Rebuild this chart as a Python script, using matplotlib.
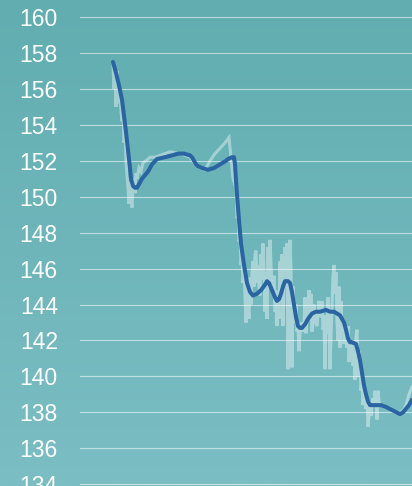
import matplotlib
matplotlib.use("Agg")
import matplotlib.pyplot as plt
import numpy as np
from matplotlib.colors import LinearSegmentedColormap

# raw readings (day, value)
raw_days = [0, 1, 2, 3, 4, 5, 6, 7, 8, 9, 10, 11, 12, 13, 14, 15, 16, 17, 18, 19,
            20, 21, 22, 23, 24, 26, 28, 30, 33, 37, 42, 47, 57, 67, 77, 82, 87, 92,
            97, 102, 107, 112, 116, 120, 123, 124, 125, 126, 127, 128, 129, 130, 131,
            132, 133, 134, 135, 136, 137, 138, 139, 140, 141, 142, 143, 144, 145, 146,
            147, 148, 149, 150, 151, 152, 153, 154, 155, 156, 157, 158, 159, 160, 161,
            162, 163, 164, 165, 166, 167, 168, 169, 170, 171, 172, 173, 174, 175, 176,
            177, 178, 179, 180, 181, 182, 183, 184, 185, 186, 187, 188, 189, 190, 191,
            192, 193, 194, 195, 196, 197, 198, 199, 200, 201, 202, 203, 204, 205, 206,
            207, 208, 209, 210, 211, 212, 213, 214, 215, 216, 217, 218, 219, 220, 221,
            222, 223, 224, 225, 226, 227, 228, 229, 230, 231, 232, 233, 234, 235, 236,
            237, 238, 239, 240, 241, 242, 243, 244, 245, 246, 247, 248, 249, 250, 251,
            252, 253, 254, 255, 256, 257, 258, 259, 260, 261, 262, 263, 264, 265, 266,
            267, 272, 277, 282, 287, 290, 293, 296, 299]
raw_values = [157.4, 156.0, 156.8, 155.0, 157.0, 156.2, 155.2, 155.6, 154.8, 154.2,
              154.8, 153.0, 153.6, 152.0, 151.2, 150.5, 149.6, 150.8, 149.8, 149.4,
              150.5, 151.0, 150.2, 151.3, 151.0, 151.6, 151.4, 151.9, 152.0, 152.2,
              152.2, 152.3, 152.5, 152.4, 152.2, 151.8, 151.6, 151.5, 152.0, 152.4,
              152.7, 153.0, 153.3, 151.0, 150.5, 148.8, 149.0, 147.5, 147.8, 146.2,
              146.8, 145.2, 146.0, 144.5, 143.0, 145.0, 144.2, 143.2, 145.5, 144.0,
              145.8, 146.4, 145.0, 146.8, 147.0, 145.2, 146.2, 145.0, 144.5, 146.8,
              145.4, 147.4, 146.0, 143.6, 145.8, 143.2, 147.2, 145.0, 147.6, 146.2,
              145.2, 144.8, 145.6, 143.6, 144.2, 142.8, 144.8, 143.2, 146.4, 144.4,
              146.8, 142.8, 145.4, 147.2, 146.2, 147.4, 140.4, 145.2, 147.6, 146.0,
              140.5, 145.0, 143.8, 143.0, 144.0, 142.5, 142.8, 141.4, 142.4, 143.0,
              142.6, 142.5, 143.0, 144.4, 142.4, 144.0, 143.4, 144.8, 143.2, 144.6,
              142.5, 143.0, 144.0, 143.4, 143.0, 142.8, 143.6, 144.2, 143.3, 143.5,
              144.2, 142.6, 143.0, 140.4, 143.4, 142.4, 144.4, 143.0, 140.4, 142.2,
              143.8, 145.6, 146.2, 144.6, 145.8, 143.0, 142.0, 145.0, 141.6, 144.2,
              142.4, 143.2, 141.8, 142.2, 142.6, 141.6, 142.8, 140.8, 142.0, 141.0,
              141.8, 140.6, 141.2, 139.8, 142.2, 142.6, 140.0, 141.4, 140.8, 139.2,
              139.8, 138.4, 139.0, 138.6, 138.2, 138.8, 137.2, 137.8, 138.6, 137.8,
              138.4, 138.8, 138.3, 139.2, 138.6, 137.6, 139.2, 138.6, 138.4, 138.3,
              138.2, 138.0, 138.0, 138.1, 138.4, 139.0, 139.4]

# smoothed trend (day, value)
trend_days = [0, 3, 6, 9, 11, 13, 15, 17, 18, 20, 22, 24, 26, 29, 32, 35, 39, 44,
              52, 59, 65, 71, 77, 79, 81, 83, 85, 89, 95, 101, 107, 113, 115, 119,
              121, 122, 123, 124, 126, 128, 131, 134, 137, 140, 144, 148, 152, 154,
              156, 159, 162, 164, 166, 168, 170, 172, 175, 177, 179, 181, 183, 185,
              187, 189, 192, 195, 199, 203, 207, 213, 217, 221, 227, 231, 233, 235,
              237, 239, 243, 245, 247, 249, 251, 253, 255, 257, 259, 262, 268, 273,
              280, 287, 290, 293, 296, 299]
trend_values = [157.5, 156.9, 156.2, 155.4, 154.5, 153.6, 152.6, 151.6, 151.0, 150.6,
                150.5, 150.5, 150.7, 151.0, 151.2, 151.4, 151.8, 152.1, 152.2, 152.3,
                152.4, 152.4, 152.3, 152.2, 152.0, 151.8, 151.7, 151.6, 151.5, 151.6,
                151.8, 152.0, 152.1, 152.2, 152.2, 151.8, 150.9, 150.1, 148.7, 147.4,
                146.2, 145.2, 144.7, 144.5, 144.6, 144.8, 145.1, 145.3, 145.2, 144.8,
                144.4, 144.2, 144.3, 144.6, 145.0, 145.3, 145.3, 145.2, 144.7, 144.0,
                143.3, 142.8, 142.7, 142.7, 142.9, 143.2, 143.5, 143.6, 143.6, 143.7,
                143.6, 143.6, 143.4, 143.0, 142.6, 142.1, 141.9, 141.9, 141.8, 141.4,
                140.9, 140.2, 139.5, 139.0, 138.6, 138.4, 138.4, 138.4, 138.4, 138.3,
                138.1, 137.9, 138.0, 138.2, 138.4, 138.7]

y_ticks = [134, 136, 138, 140, 142, 144, 146, 148, 150, 152, 154, 156, 158, 160]

fig = plt.figure(figsize=(4.12, 4.86), dpi=100)

# gradient background
bg = fig.add_axes([0, 0, 1, 1])
bg.set_axis_off()
cmap = LinearSegmentedColormap.from_list("bg", ["#61adb0", "#7bbec4"])
bg.imshow(np.linspace(0, 1, 256).reshape(-1, 1), aspect="auto", cmap=cmap,
          extent=[0, 1, 0, 1])
bg.set_zorder(-1)

ax = fig.add_axes([80 / 412, 0, 332 / 412, 1])
ax.patch.set_alpha(0)
ax.plot(raw_days, raw_values, color="white", alpha=0.4, lw=2.2,
        solid_joinstyle="miter")
ax.plot(trend_days, trend_values, color="#2a64a2", lw=2.9,
        solid_capstyle="round", solid_joinstyle="round")

ax.set_xlim(-33, 299)
ax.set_ylim(133.9, 160.95)
ax.set_yticks(y_ticks)
ax.set_xticks([])
ax.grid(axis="y", color="white", alpha=0.55, lw=0.8)
ax.set_axisbelow(True)
for s in ax.spines.values():
    s.set_visible(False)
ax.tick_params(axis="y", length=0, pad=16, labelsize=16.5, labelcolor="white")
for lbl in ax.get_yticklabels():
    lbl.set_fontfamily("Liberation Sans")

fig.savefig("out.png", dpi=100)
